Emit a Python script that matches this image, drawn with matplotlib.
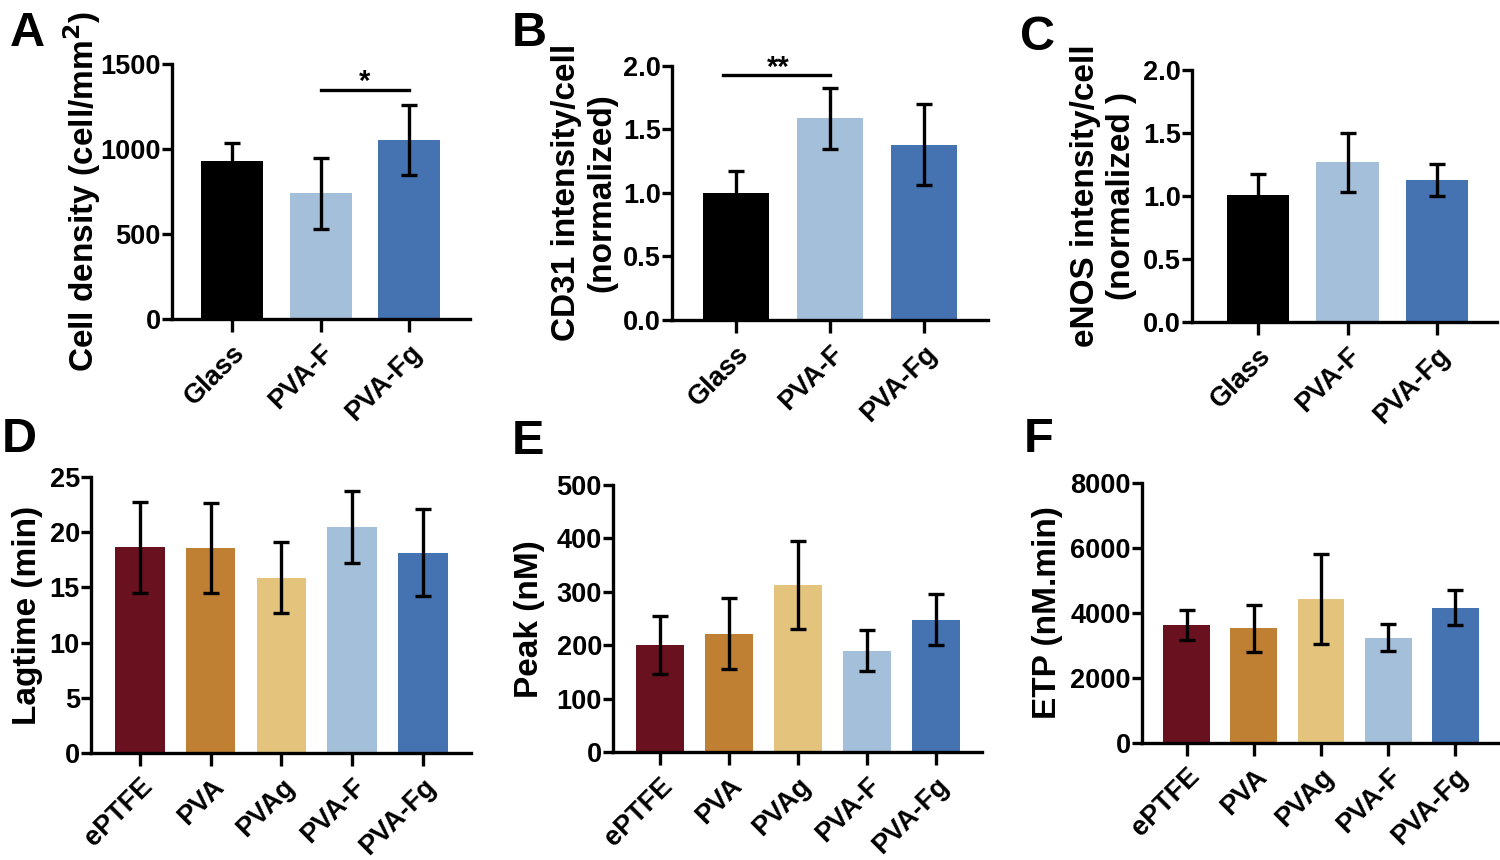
import numpy as np
import matplotlib
matplotlib.use("Agg")
import matplotlib.pyplot as plt

plt.rcParams['font.family'] = ['Liberation Sans', 'DejaVu Sans']
plt.rcParams['font.weight'] = 'bold'

# ---- data ----
cell_groups = ['Glass', 'PVA-F', 'PVA-Fg']
cell_colors = ['#000000', '#a3bfda', '#4572b0']

density_mean = [931, 739, 1053]
density_err = [105, 210, 205]

cd31_mean = [1.00, 1.585, 1.38]
cd31_err = [0.17, 0.24, 0.32]

enos_mean = [1.01, 1.265, 1.125]
enos_err = [0.16, 0.235, 0.125]

coag_groups = ['ePTFE', 'PVA', 'PVAg', 'PVA-F', 'PVA-Fg']
coag_colors = ['#6a111f', '#c08033', '#e4c47d', '#a3bfda', '#4572b0']

lagtime_mean = [18.65, 18.6, 15.9, 20.5, 18.15]
lagtime_err = [4.15, 4.1, 3.2, 3.3, 3.95]

peak_mean = [201, 222, 313, 190, 248]
peak_err = [54, 67, 83, 38, 48]

etp_mean = [3630, 3530, 4430, 3240, 4165]
etp_err = [460, 720, 1380, 410, 530]

fig = plt.figure(figsize=(15, 8.6), dpi=100)
W, H = 1500, 860


def px_axes(left, right, top, bottom):
    return fig.add_axes([left / W, 1 - bottom / H, (right - left) / W, (bottom - top) / H])


def bar_panel(ax, groups, means, errs, colors, xlim, ylim, yticks, fmt, ylabel, label_x):
    x = np.arange(len(groups))
    ax.bar(x, means, width=0.7, color=colors, zorder=2)
    ax.errorbar(x, means, yerr=errs, fmt='none', ecolor='black', elinewidth=2.4,
                capsize=6, capthick=2.4, zorder=3)
    ax.set_xlim(*xlim)
    ax.set_ylim(*ylim)
    ax.set_yticks(yticks)
    ax.set_yticklabels([fmt.format(v) for v in yticks])
    ax.set_xticks(x)
    ax.set_xticklabels(groups, rotation=45, ha='right', rotation_mode='anchor')
    for s in ['top', 'right']:
        ax.spines[s].set_visible(False)
    for s in ['left', 'bottom']:
        ax.spines[s].set_linewidth(2.4)
    ax.tick_params(axis='both', width=2.4, labelsize=19.5, pad=1)
    ax.tick_params(axis='y', length=7)
    ax.tick_params(axis='x', length=9, pad=6)
    ax.set_ylabel(ylabel, fontsize=24, fontweight='bold', va='center', linespacing=1.2)
    ax.yaxis.set_label_coords(label_x, 0.5)


axA = px_axes(172, 470, 64, 319)
bar_panel(axA, cell_groups, density_mean, density_err, cell_colors, (-0.68, 2.69), (0, 1500),
          [0, 500, 1000, 1500], '{:.0f}', 'Cell density (cell/mm$^\\mathbf{2}$)', -0.3)
axA.plot([1, 2], [1350, 1350], color='black', lw=2.4, clip_on=False)
axA.text(1.5, 1310, '*', ha='center', va='bottom', fontsize=21)

axB = px_axes(672, 988, 65.7, 320)
bar_panel(axB, cell_groups, cd31_mean, cd31_err, cell_colors, (-0.68, 2.68), (0, 2.0),
          [0, 0.5, 1.0, 1.5, 2.0], '{:.1f}', 'CD31 intensity/cell\n(normalized)', -0.278)
axB.plot([-0.14, 1.0], [1.93, 1.93], color='black', lw=2.4, clip_on=False)
axB.text(0.45, 1.875, '**', ha='center', va='bottom', fontsize=21)

axC = px_axes(1192, 1497, 70, 321.7)
bar_panel(axC, cell_groups, enos_mean, enos_err, cell_colors, (-0.74, 2.67), (0, 2.0),
          [0, 0.5, 1.0, 1.5, 2.0], '{:.1f}', 'eNOS intensity/cell\n(normalized )', -0.29)

axD = px_axes(91, 471, 477.3, 752.7)
bar_panel(axD, coag_groups, lagtime_mean, lagtime_err, coag_colors, (-0.69, 4.68), (0, 25),
          [0, 5, 10, 15, 20, 25], '{:.0f}', 'Lagtime (min)', -0.166)

axE = px_axes(613, 982, 485, 752.3)
bar_panel(axE, coag_groups, peak_mean, peak_err, coag_colors, (-0.68, 4.67), (0, 500),
          [0, 100, 200, 300, 400, 500], '{:.0f}', 'Peak (nM)', -0.225)

axF = px_axes(1142, 1500, 483.3, 742.7)
bar_panel(axF, coag_groups, etp_mean, etp_err, coag_colors, (-0.67, 4.67), (0, 8000),
          [0, 2000, 4000, 6000, 8000], '{:.0f}', 'ETP (nM.min)', -0.265)

# panel letters
for letter, (px, py) in {'A': (27, 33), 'B': (529, 33), 'C': (1038, 38),
                         'D': (19, 439), 'E': (528, 442), 'F': (1039, 440)}.items():
    fig.text(px / W, 1 - py / H, letter, fontsize=35, fontweight='bold',
             ha='center', va='center')

fig.savefig('out.png', dpi=100)
